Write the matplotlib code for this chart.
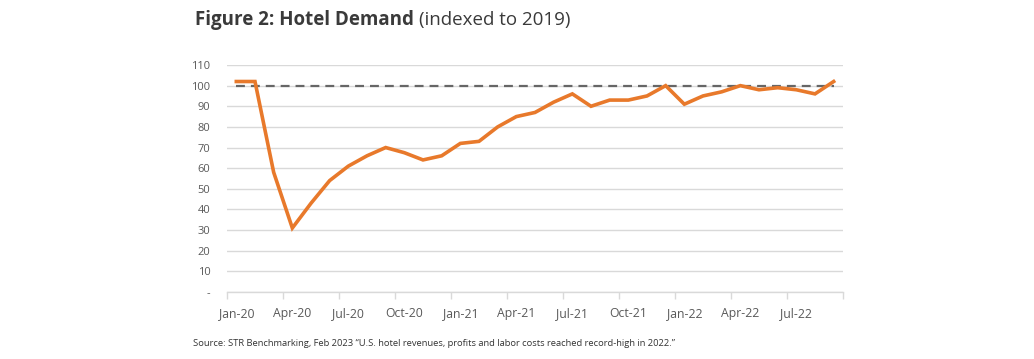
import matplotlib
matplotlib.use("Agg")
import matplotlib.pyplot as plt
import numpy as np

plt.rcParams['font.family'] = ['Open Sans', 'DejaVu Sans']

months = ["Jan-20", "Feb-20", "Mar-20", "Apr-20", "May-20", "Jun-20", "Jul-20", "Aug-20",
          "Sep-20", "Oct-20", "Nov-20", "Dec-20", "Jan-21", "Feb-21", "Mar-21", "Apr-21",
          "May-21", "Jun-21", "Jul-21", "Aug-21", "Sep-21", "Oct-21", "Nov-21", "Dec-21",
          "Jan-22", "Feb-22", "Mar-22", "Apr-22", "May-22", "Jun-22", "Jul-22", "Aug-22",
          "Sep-22"]
demand = [102, 102, 58, 31, 43, 54, 61, 66, 70, 67.5, 64, 66, 72, 73, 80, 85,
          87, 92, 96, 90, 93, 93, 95, 100, 91, 95, 97, 100, 98, 99, 98, 96, 102]
baseline = [100] * len(months)
yticks = [0, 10, 20, 30, 40, 50, 60, 70, 80, 90, 100, 110]
ytick_labels = ["-", "10", "20", "30", "40", "50", "60", "70", "80", "90", "100", "110"]

fig = plt.figure(figsize=(10.34, 3.59), dpi=100)
ax = fig.add_axes([227/1034, 1-292/359, (843-227)/1034, (292-65)/359])

x = np.arange(len(months))
ax.plot(x, baseline, color="#666666", lw=1.6, dashes=(4, 2.7), zorder=2)
ax.plot(x, demand, color="#E8792B", lw=2.6, zorder=3, solid_joinstyle="miter")

ax.set_xlim(-0.5, len(months) - 0.5)
ax.set_ylim(0, 110)
ax.set_yticks(yticks)
ax.set_yticklabels(ytick_labels)
ax.yaxis.grid(True, color="#d9d9d9", lw=1)
ax.set_axisbelow(True)
ax.tick_params(axis="y", length=0, pad=12, labelsize=8, labelcolor="#595959")

label_pos = x[::3]
ax.set_xticks(label_pos)
ax.set_xticklabels([months[i] for i in label_pos])
ax.tick_params(axis="x", which="major", length=0, pad=11, labelsize=8.8, labelcolor="#595959")
ax.set_xticks(np.arange(-0.5, len(months), 3), minor=True)
ax.tick_params(axis="x", which="minor", length=5, width=1, color="#d9d9d9", direction="out")

for s in ["top", "right", "left"]:
    ax.spines[s].set_visible(False)
ax.spines["bottom"].set_color("#d9d9d9")
ax.spines["bottom"].set_linewidth(1)

t1 = fig.text(195/1034, 1-20/359, "Figure 2: Hotel Demand", fontsize=13.5, fontweight="bold",
              color="#3a3a3a", va="center", ha="left")
fig.canvas.draw()
bb = t1.get_window_extent(fig.canvas.get_renderer())
fig.text((bb.x1 + 5)/1034, 1-20/359, "(indexed to 2019)", fontsize=13.5,
         color="#3a3a3a", va="center", ha="left")
fig.text(193/1034, 1-344/359,
         "Source: STR Benchmarking, Feb 2023 \u201cU.S. hotel revenues, profits and labor costs reached record-high in 2022.\u201d",
         fontsize=6.75, color="#333333", va="center", ha="left")

fig.savefig("out.png", dpi=100)
